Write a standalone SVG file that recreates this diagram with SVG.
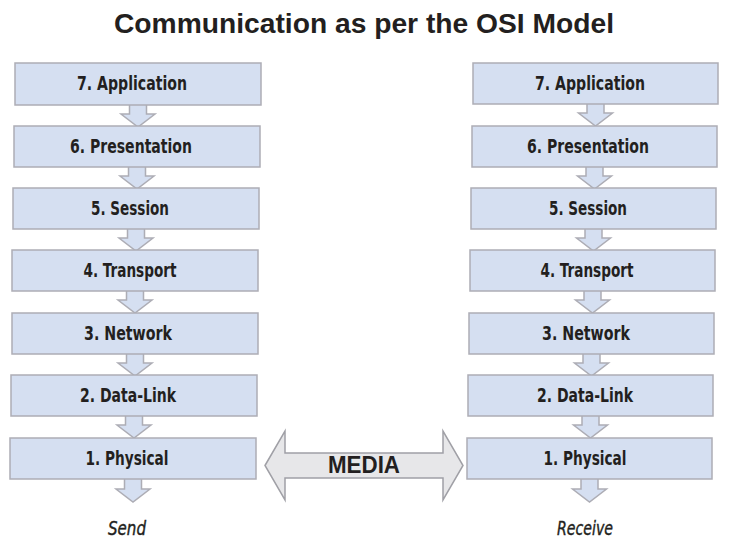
<svg xmlns="http://www.w3.org/2000/svg" width="731" height="547" viewBox="0 0 731 547">
<style>
.box{fill:#d5dff1;stroke:#adadb5;stroke-width:1.5}
.arr{fill:#d5dff1;stroke:#adadb5;stroke-width:1.5;stroke-linejoin:miter}
.lbl{font-family:"DejaVu Sans Condensed","Liberation Sans Narrow","Liberation Sans",sans-serif;font-size:20px;font-weight:bold;fill:#231f20;text-anchor:middle}
.cap{font-family:"DejaVu Sans Condensed","Liberation Sans Narrow","Liberation Sans",sans-serif;font-size:20px;font-style:italic;fill:#231f20;stroke:#231f20;stroke-width:0.4;text-anchor:middle}
.title{font-family:"Liberation Sans","DejaVu Sans",sans-serif;font-size:27px;font-weight:bold;fill:#231f20;text-anchor:middle}
.media{fill:#e7e7e9;stroke:#a0a0a6;stroke-width:1.5}
.mt{font-family:"Liberation Sans","DejaVu Sans",sans-serif;font-size:23px;font-weight:bold;fill:#231f20;text-anchor:middle}
</style>
<rect width="731" height="547" fill="#ffffff"/>
<text class="title" x="364" y="33" textLength="500" lengthAdjust="spacingAndGlyphs">Communication as per the OSI Model</text>

<g id="connectors">
<path class="arr" d="M129.5,105 V114 H121 L138,127 L155,114 H146.5 V105"/>
<path class="arr" d="M128.5,167 V176 H120 L137,189 L154,176 H145.5 V167"/>
<path class="arr" d="M127.5,229 V238 H119 L136,251 L153,238 H144.5 V229"/>
<path class="arr" d="M126.5,291 V300 H118 L135,313 L152,300 H143.5 V291"/>
<path class="arr" d="M126.5,354 V363 H118 L135,376 L152,363 H143.5 V354"/>
<path class="arr" d="M125.5,416 V425 H117 L134,438 L151,425 H142.5 V416"/>
<path class="arr" d="M124.5,479 V489 H116 L133,502 L150,489 H141.5 V479"/>
<path class="arr" d="M587,104 V113 H578.5 L595.5,126 L612.5,113 H604 V104"/>
<path class="arr" d="M586,167 V176 H577.5 L594.5,189 L611.5,176 H603 V167"/>
<path class="arr" d="M585,229 V238 H576.5 L593.5,251 L610.5,238 H602 V229"/>
<path class="arr" d="M584,291 V300 H575.5 L592.5,313 L609.5,300 H601 V291"/>
<path class="arr" d="M583,354 V363 H574.5 L591.5,376 L608.5,363 H600 V354"/>
<path class="arr" d="M582,416 V425 H573.5 L590.5,438 L607.5,425 H599 V416"/>
<path class="arr" d="M581,479 V489 H572.5 L589.5,502 L606.5,489 H598 V479"/>
</g>

<g id="send-stack">
<g id="s7"><rect class="box" x="15" y="63" width="246" height="42"/><text class="lbl" x="132" y="90" textLength="110" lengthAdjust="spacingAndGlyphs">7. Application</text></g>
<g id="s6"><rect class="box" x="14" y="126" width="246" height="41"/><text class="lbl" x="131" y="153" textLength="122" lengthAdjust="spacingAndGlyphs">6. Presentation</text></g>
<g id="s5"><rect class="box" x="13" y="188" width="246" height="41"/><text class="lbl" x="130" y="215" textLength="78" lengthAdjust="spacingAndGlyphs">5. Session</text></g>
<g id="s4"><rect class="box" x="12" y="250" width="246" height="41"/><text class="lbl" x="130" y="277" textLength="93" lengthAdjust="spacingAndGlyphs">4. Transport</text></g>
<g id="s3"><rect class="box" x="12" y="313" width="246" height="41"/><text class="lbl" x="128" y="340" textLength="88" lengthAdjust="spacingAndGlyphs">3. Network</text></g>
<g id="s2"><rect class="box" x="11" y="375" width="246" height="41"/><text class="lbl" x="128" y="402" textLength="96" lengthAdjust="spacingAndGlyphs">2. Data-Link</text></g>
<g id="s1"><rect class="box" x="10" y="438" width="246" height="41"/><text class="lbl" x="127" y="465" textLength="83" lengthAdjust="spacingAndGlyphs">1. Physical</text></g>
</g>

<g id="receive-stack">
<g id="r7"><rect class="box" x="473" y="63" width="245" height="41"/><text class="lbl" x="590" y="90" textLength="110" lengthAdjust="spacingAndGlyphs">7. Application</text></g>
<g id="r6"><rect class="box" x="472" y="126" width="245" height="41"/><text class="lbl" x="588" y="153" textLength="122" lengthAdjust="spacingAndGlyphs">6. Presentation</text></g>
<g id="r5"><rect class="box" x="471" y="188" width="245" height="41"/><text class="lbl" x="588" y="215" textLength="78" lengthAdjust="spacingAndGlyphs">5. Session</text></g>
<g id="r4"><rect class="box" x="470" y="250" width="245" height="41"/><text class="lbl" x="587" y="277" textLength="93" lengthAdjust="spacingAndGlyphs">4. Transport</text></g>
<g id="r3"><rect class="box" x="469" y="313" width="245" height="41"/><text class="lbl" x="586" y="340" textLength="88" lengthAdjust="spacingAndGlyphs">3. Network</text></g>
<g id="r2"><rect class="box" x="468" y="375" width="245" height="41"/><text class="lbl" x="585" y="402" textLength="96" lengthAdjust="spacingAndGlyphs">2. Data-Link</text></g>
<g id="r1"><rect class="box" x="467" y="438" width="245" height="41"/><text class="lbl" x="585" y="465" textLength="83" lengthAdjust="spacingAndGlyphs">1. Physical</text></g>
</g>

<g id="media">
<path class="media" d="M265,465.5 L285,431 V453 H443 V431 L463,465.5 L443,500 V478 H285 V500 Z"/>
<text class="mt" x="364" y="473" textLength="72" lengthAdjust="spacingAndGlyphs">MEDIA</text>
</g>

<g id="send-label"><text class="cap" x="127" y="535" textLength="38" lengthAdjust="spacingAndGlyphs">Send</text></g>
<g id="receive-label"><text class="cap" x="585" y="535" textLength="56" lengthAdjust="spacingAndGlyphs">Receive</text></g>
</svg>
